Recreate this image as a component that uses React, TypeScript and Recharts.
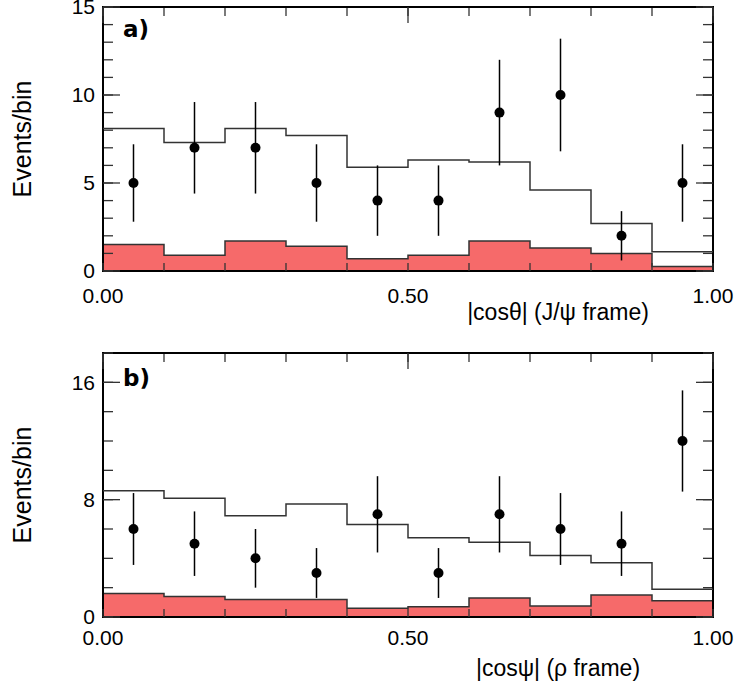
import React from "react"
import { ComposedChart, Area, Line, Scatter, ErrorBar, XAxis, YAxis, ReferenceArea } from "recharts"

// bin layout shared by both panels
const binEdges = [0, 0.1, 0.2, 0.3, 0.4, 0.5, 0.6, 0.7, 0.8, 0.9, 1.0]
const binCenters = [0.05, 0.15, 0.25, 0.35, 0.45, 0.55, 0.65, 0.75, 0.85, 0.95]

// panel a) |cos theta| in the J/psi frame
const countsA = [5, 7, 7, 5, 4, 4, 9, 10, 2, 5]
const errorsA = [2.2, 2.6, 2.6, 2.2, 2.0, 2.0, 3.0, 3.2, 1.4, 2.2]
const mcA = [8.1, 7.3, 8.1, 7.7, 5.9, 6.3, 6.2, 4.6, 2.7, 1.1]
const bkgA = [1.5, 0.9, 1.7, 1.4, 0.7, 0.9, 1.7, 1.3, 1.0, 0.25]

// panel b) |cos psi| in the rho frame
const countsB = [6, 5, 4, 3, 7, 3, 7, 6, 5, 12]
const errorsB = [2.45, 2.2, 2.0, 1.7, 2.6, 1.7, 2.6, 2.45, 2.2, 3.45]
const mcB = [8.6, 8.1, 6.9, 7.7, 6.3, 5.4, 5.1, 4.2, 3.7, 1.9]
const bkgB = [1.6, 1.4, 1.2, 1.2, 0.6, 0.7, 1.3, 0.75, 1.5, 1.1]

// axis ticks
const xMajor = [0, 0.5, 1]
const xMinor = [0, 0.1, 0.2, 0.3, 0.4, 0.5, 0.6, 0.7, 0.8, 0.9, 1.0]
const yMajorA = [0, 5, 10, 15]
const yMinorA = [0, 1, 2, 3, 4, 5, 6, 7, 8, 9, 10, 11, 12, 13, 14, 15]
const yMajorB = [0, 8, 16]
const yMinorB = [0, 2, 4, 6, 8, 10, 12, 14, 16, 18]

const FONT = "Liberation Sans"
const TICK_COLOR = "#333"

type PanelProps = {
  tag: string
  xTitle: string
  counts: number[]
  errors: number[]
  mc: number[]
  bkg: number[]
  yMax: number
  yMajor: number[]
  yMinor: number[]
  height: number
  margin: { top: number; right: number; bottom: number; left: number }
  labelGap: number
  titleGap: number
  tagGap: number
}

function YTitle(props: any) {
  const { viewBox, tag, tagGap } = props
  const left = viewBox.x + viewBox.width
  const cy = viewBox.y + viewBox.height / 2
  const cx = viewBox.x - 51
  return (
    <g>
      <text
        x={cx}
        y={cy}
        transform={`rotate(-90 ${cx} ${cy})`}
        textAnchor="middle"
        dominantBaseline="central"
        fontFamily={FONT}
        fontSize={25}
        fill="#000"
      >
        Events/bin
      </text>
      <text
        x={left + 20}
        y={viewBox.y + tagGap}
        fontFamily="DejaVu Sans"
        fontWeight="bold"
        fontSize={23}
        fill="#000"
      >
        {tag}
      </text>
    </g>
  )
}

function XTitle(props: any) {
  const { viewBox, value, titleGap } = props
  return (
    <text
      x={viewBox.x + 455}
      y={viewBox.y + titleGap}
      textAnchor="middle"
      dominantBaseline="central"
      fontFamily={FONT}
      fontSize={23}
      fill="#000"
    >
      {value}
    </text>
  )
}

const tickLineStyle = { stroke: TICK_COLOR, strokeWidth: 1.3 }
const noLabel = () => <g />

function Panel(p: PanelProps) {
  const steps = binEdges.map((x, i) => ({
    x,
    mc: p.mc[Math.min(i, p.mc.length - 1)],
    bkg: p.bkg[Math.min(i, p.bkg.length - 1)],
  }))
  const points = binCenters.map((x, i) => ({ x, y: p.counts[i], err: p.errors[i] }))
  const domain: [number, number] = [0, p.yMax]

  return (
    <ComposedChart width={736} height={p.height} margin={p.margin} data={steps}>
      {/* labelled axes: bottom and left */}
      <XAxis
        xAxisId="main"
        dataKey="x"
        type="number"
        domain={[0, 1]}
        ticks={xMajor}
        interval={0}
        tickFormatter={(v: number) => v.toFixed(2)}
        tickLine={false}
        tickSize={0}
        tickMargin={p.labelGap}
        height={60}
        axisLine={false}
        tick={{ fill: "#000", fontSize: 21, fontFamily: FONT }}
        label={<XTitle value={p.xTitle} titleGap={p.titleGap} />}
      />
      <YAxis
        yAxisId="main"
        type="number"
        domain={domain}
        ticks={p.yMajor}
        interval={0}
        tickLine={false}
        tickSize={0}
        tickMargin={8}
        width={30}
        axisLine={false}
        tick={{ fill: "#000", fontSize: 21, fontFamily: FONT }}
        label={<YTitle tag={p.tag} tagGap={p.tagGap} />}
      />

      {/* inward tick marks on all four sides */}
      <XAxis xAxisId="botMinor" dataKey="x" orientation="bottom" mirror type="number" domain={[0, 1]} ticks={xMinor} interval={0} tick={noLabel} tickSize={8} height={1} axisLine={false} tickLine={tickLineStyle} />
      <XAxis xAxisId="topMinor" dataKey="x" orientation="top" mirror type="number" domain={[0, 1]} ticks={xMinor} interval={0} tick={noLabel} tickSize={8} height={1} axisLine={false} tickLine={tickLineStyle} />
      <XAxis xAxisId="topMajor" dataKey="x" orientation="top" mirror type="number" domain={[0, 1]} ticks={xMajor} interval={0} tick={noLabel} tickSize={16} height={1} axisLine={false} tickLine={tickLineStyle} />
      <YAxis yAxisId="leftMinor" dataKey="mc" orientation="left" mirror type="number" domain={domain} ticks={p.yMinor} interval={0} tick={noLabel} tickSize={9} width={1} axisLine={false} tickLine={tickLineStyle} />
      <YAxis yAxisId="leftMajor" dataKey="mc" orientation="left" mirror type="number" domain={domain} ticks={p.yMajor} interval={0} tick={noLabel} tickSize={17} width={1} axisLine={false} tickLine={tickLineStyle} />
      <YAxis yAxisId="rightMinor" dataKey="mc" orientation="right" mirror type="number" domain={domain} ticks={p.yMinor} interval={0} tick={noLabel} tickSize={9} width={1} axisLine={false} tickLine={tickLineStyle} />
      <YAxis yAxisId="rightMajor" dataKey="mc" orientation="right" mirror type="number" domain={domain} ticks={p.yMajor} interval={0} tick={noLabel} tickSize={17} width={1} axisLine={false} tickLine={tickLineStyle} />

      {/* background histogram */}
      <Area
        xAxisId="main"
        yAxisId="main"
        dataKey="bkg"
        type="stepAfter"
        baseValue={0}
        fill="#f66a6a"
        fillOpacity={1}
        stroke="#333"
        strokeWidth={1.5}
        isAnimationActive={false}
      />
      {/* simulated distribution */}
      <Line
        xAxisId="main"
        yAxisId="main"
        dataKey="mc"
        type="stepAfter"
        stroke="#333"
        strokeWidth={1.5}
        dot={false}
        isAnimationActive={false}
      />
      {/* data with statistical errors */}
      <Scatter
        data={points}
        xAxisId="main"
        yAxisId="main"
        dataKey="y"
        fill="#000"
        shape={(s: any) => <circle cx={s.cx} cy={s.cy} r={5} fill="#000" />}
        isAnimationActive={false}
      >
        <ErrorBar dataKey="err" direction="y" width={0} stroke="#000" strokeWidth={1.5} />
      </Scatter>

      {/* plot frame */}
      <ReferenceArea
        xAxisId="main"
        yAxisId="main"
        x1={0}
        x2={1}
        y1={0}
        y2={p.yMax}
        fill="none"
        fillOpacity={0}
        stroke="#000"
        strokeWidth={2}
        ifOverflow="visible"
      />
    </ComposedChart>
  )
}

export default function App() {
  return (
    <div style={{ position: "absolute", left: 0, top: 0, width: 736, height: 687, background: "#fff" }}>
      <div style={{ position: "absolute", left: 0, top: 0 }}>
        <Panel
          tag="a)"
          xTitle="|cosθ| (J/ψ frame)"
          counts={countsA}
          errors={errorsA}
          mc={mcA}
          bkg={bkgA}
          yMax={15}
          yMajor={yMajorA}
          yMinor={yMinorA}
          height={340}
          margin={{ top: 7, right: 23, bottom: 9, left: 73 }}
          labelGap={17}
          titleGap={41}
          tagGap={30}
        />
      </div>
      <div style={{ position: "absolute", left: 0, top: 340 }}>
        <Panel
          tag="b)"
          xTitle="|cosψ| (ρ frame)"
          counts={countsB}
          errors={errorsB}
          mc={mcB}
          bkg={bkgB}
          yMax={18}
          yMajor={yMajorB}
          yMinor={yMinorB}
          height={347}
          margin={{ top: 13, right: 23, bottom: 10, left: 73 }}
          labelGap={13}
          titleGap={51}
          tagGap={33}
        />
      </div>
    </div>
  )
}
